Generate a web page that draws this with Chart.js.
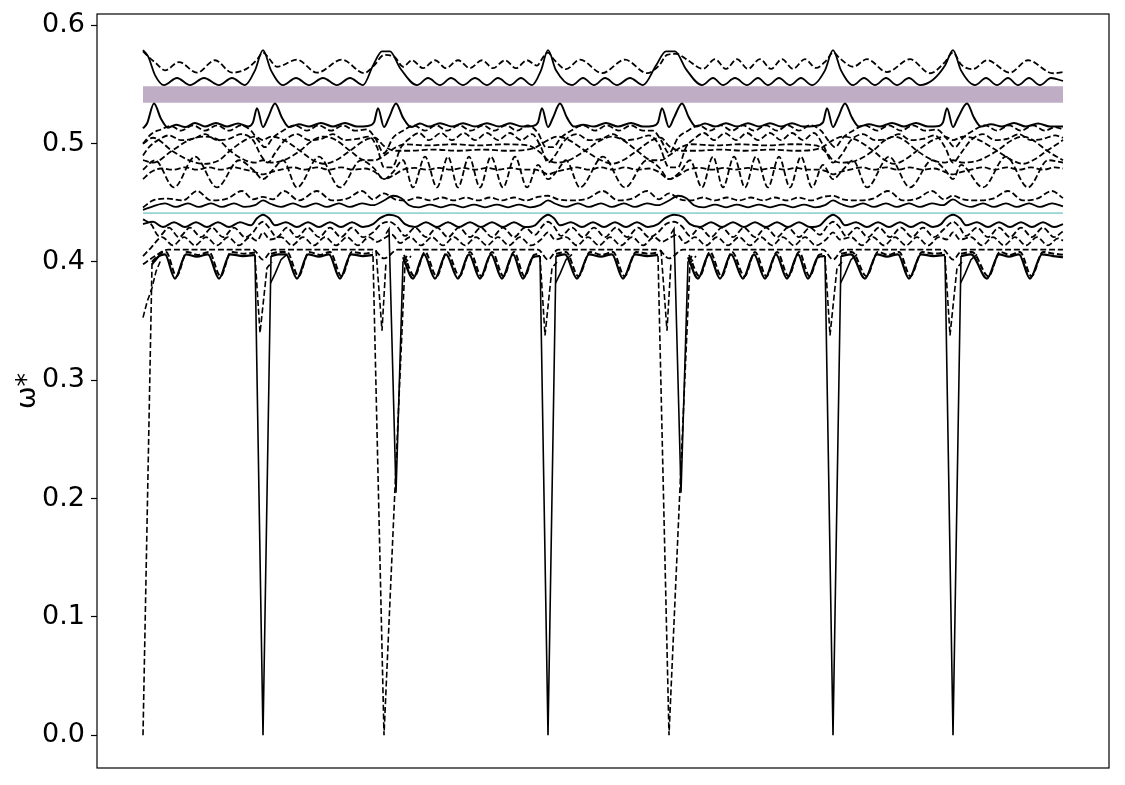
<!DOCTYPE html>
<html><head><meta charset="utf-8">
<script src="https://cdn.jsdelivr.net/npm/chart.js@4.4.1/dist/chart.umd.min.js"></script>
<style>html,body{margin:0;padding:0;background:#fff;}#wrap{width:1125px;height:785px;}</style>
</head><body><div id="wrap"><canvas id="c" width="1125" height="785"></canvas></div>
<script>
// y-axis ticks
const yTicks = [0, 0.1, 0.2, 0.3, 0.4, 0.5, 0.6];
// k-path coordinate runs from 0 to 92 (high-symmetry points at 0,12,24.1,40.5,52.6,69,81,92)

const topSolid = [[0,.579],[0.5,.574],[1.2,.558],[2.1,.5495],[3.4,.5555],[4.7,.5495],[6.1,.5555],[7.6,.5495],[8.9,.5555],[10.2,.5495],[11.2,.562],[12,.579],[12.8,.562],[14.0,.5495],[15.3,.5555],[16.6,.5495],[18.0,.5555],[19.4,.5495],[20.7,.5555],[22.0,.5495],[23.0,.566],[23.9,.578],[24.7,.578],[25.7,.564],[27.4,.5495],[28.5,.5555],[29.7,.5495],[30.8,.5555],[32.0,.5495],[33.2,.5555],[34.4,.5495],[35.5,.5555],[36.7,.5495],[37.8,.5555],[38.9,.5495],[39.8,.562],[40.5,.579],[41.3,.562],[42.9,.5495],[44.0,.5555],[45.1,.5495],[46.2,.5555],[47.4,.5495],[48.7,.5555],[50.0,.5495],[51.3,.566],[52.3,.578],[53.2,.578],[54.3,.563],[55.9,.5495],[57.0,.5555],[58.0,.5495],[59.2,.5555],[60.4,.5495],[61.5,.5555],[62.5,.5495],[63.6,.5555],[64.7,.5495],[65.8,.5555],[66.9,.5495],[68.2,.562],[69,.579],[69.8,.562],[71.0,.5495],[72.1,.5555],[73.2,.5495],[74.3,.5555],[75.4,.5495],[76.6,.5555],[77.7,.5495],[79.0,.554],[80.2,.566],[81,.579],[81.8,.562],[83.2,.5495],[84.3,.5555],[85.4,.5495],[86.5,.5555],[87.5,.5495],[88.6,.5555],[89.7,.5495],[90.8,.5555],[92,.553]];

const topDashed = [[0,.578],[0.6,.573],[1.3,.568],[2.2,.562],[3.6,.569],[5.4,.560],[7.2,.5705],[8.9,.560],[10.3,.563],[11.4,.571],[12,.577],[12.6,.572],[13.4,.565],[15.4,.571],[17.4,.560],[19.9,.571],[22.1,.5596],[23.1,.566],[24.1,.575],[25.2,.573],[26.0,.565],[26.9,.5705],[28.0,.5638],[29.2,.5705],[30.3,.5638],[31.5,.5705],[32.7,.5638],[33.9,.5705],[35.0,.5638],[36.2,.5705],[37.3,.5638],[38.4,.5705],[39.4,.566],[40.0,.573],[40.5,.577],[41.1,.571],[42.3,.563],[43.7,.571],[45.9,.5596],[48.2,.571],[50.4,.5596],[51.6,.566],[52.4,.575],[53.3,.576],[54.4,.571],[56.0,.5632],[57.2,.5714],[58.3,.5632],[59.4,.5714],[60.5,.5632],[61.7,.5714],[62.8,.5632],[63.9,.5714],[65.0,.5632],[66.2,.5714],[67.3,.564],[68.3,.570],[69,.577],[69.7,.572],[71.0,.565],[72.4,.5714],[74.4,.5605],[76.7,.5714],[78.7,.5595],[80.2,.569],[81,.577],[81.8,.567],[83.0,.563],[84.4,.5705],[86.7,.560],[88.5,.5705],[91.0,.5595],[92,.5605]];

const bandLow = [[0,.5345],[92,.5345]];
const bandHigh = [[0,.5486],[92,.5486]];

const s2Solid = [[0,.513],[0.4,.517],[1.1,.534],[1.8,.521],[2.5,.5135],[3.3,.516],[4.2,.514],[5.2,.5175],[6.2,.5145],[7.3,.5175],[8.4,.5145],[9.5,.517],[10.5,.5145],[11.0,.518],[11.4,.530],[12.0,.514],[12.5,.522],[13.2,.534],[13.9,.522],[14.6,.514],[15.6,.5165],[16.6,.5145],[17.8,.5175],[19.0,.5145],[20.2,.5175],[21.4,.5145],[22.5,.515],[23.1,.518],[23.5,.530],[24.1,.514],[24.6,.522],[25.3,.534],[26.0,.522],[26.8,.514],[27.7,.517],[28.6,.5145],[29.7,.5172],[30.9,.5145],[32.0,.5172],[33.2,.5145],[34.4,.5172],[35.6,.5145],[36.7,.5172],[37.9,.5145],[39.0,.515],[39.5,.518],[39.9,.530],[40.5,.514],[41.0,.522],[41.7,.534],[42.4,.522],[43.1,.5145],[44.0,.516],[45.1,.5145],[46.3,.5175],[47.5,.5145],[48.8,.5175],[50.0,.5145],[51.0,.515],[51.5,.518],[51.9,.530],[52.6,.514],[53.1,.522],[53.9,.534],[54.6,.522],[55.3,.5145],[56.2,.517],[57.2,.5145],[58.3,.5172],[59.4,.5145],[60.5,.5172],[61.6,.5145],[62.7,.5172],[63.8,.5145],[64.9,.5172],[66.0,.5145],[67.2,.515],[68.0,.518],[68.4,.530],[69.0,.514],[69.5,.522],[70.2,.534],[70.9,.522],[71.6,.5145],[72.6,.5165],[73.7,.5145],[74.9,.5175],[76.1,.5145],[77.3,.5175],[78.5,.5145],[79.6,.515],[80.0,.518],[80.4,.530],[81.0,.514],[81.5,.522],[82.4,.534],[83.1,.522],[83.8,.5145],[84.8,.5165],[85.9,.5145],[87.1,.5175],[88.3,.5145],[89.5,.517],[90.7,.5145],[92,.5145]];

const d2Dashed = [[0,.500],[0.8,.508],[1.8,.512],[2.8,.515],[3.8,.511],[5.0,.5155],[6.2,.511],[7.4,.5155],[8.6,.511],[9.8,.5155],[10.8,.511],[11.5,.503],[12.2,.497],[13.0,.505],[14.0,.511],[15.2,.5155],[16.4,.511],[17.6,.5155],[18.8,.511],[20.0,.5155],[21.2,.511],[22.4,.512],[23.2,.505],[24.1,.492],[25.0,.505],[26.0,.511],[27.1,.5155],[28.2,.511],[29.3,.5155],[30.4,.511],[31.6,.5155],[32.8,.511],[34.0,.5155],[35.1,.511],[36.3,.5155],[37.4,.511],[38.5,.5155],[39.5,.509],[40.3,.497],[41.0,.497],[41.8,.505],[42.8,.511],[44.0,.5155],[45.2,.511],[46.4,.5155],[47.6,.511],[48.8,.5155],[50.0,.511],[51.0,.511],[51.8,.503],[52.6,.492],[53.5,.505],[54.5,.511],[55.6,.5155],[56.7,.511],[57.8,.5155],[58.9,.511],[60.0,.5155],[61.1,.511],[62.3,.5155],[63.4,.511],[64.5,.5155],[65.6,.511],[66.7,.5155],[67.8,.511],[68.5,.503],[69.2,.497],[70.0,.505],[71.0,.511],[72.2,.5155],[73.4,.511],[74.6,.5155],[75.8,.511],[77.0,.5155],[78.2,.511],[79.4,.512],[80.3,.505],[81.2,.497],[82.0,.505],[83.0,.511],[84.2,.5155],[85.4,.511],[86.6,.5155],[87.8,.511],[89.0,.5155],[90.2,.511],[91.2,.514],[92,.512]];

const d3Dashed = [[0,.490],[0.6,.497],[1.5,.503],[2.6,.507],[3.8,.503],[5.0,.504],[6.2,.508],[7.4,.503],[8.6,.504],[9.8,.508],[11.0,.503],[11.8,.490],[12.5,.484],[13.2,.492],[14.2,.503],[15.4,.508],[16.6,.503],[17.8,.504],[19.0,.508],[20.2,.503],[21.4,.504],[22.6,.506],[23.4,.497],[24.1,.480],[24.9,.480],[25.8,.497],[26.6,.504],[27.6,.509],[28.6,.503],[29.8,.509],[30.9,.503],[32.1,.509],[33.2,.503],[34.4,.509],[35.5,.503],[36.7,.509],[37.8,.503],[38.9,.508],[39.8,.497],[40.5,.484],[41.2,.490],[42.2,.503],[43.4,.508],[44.6,.503],[45.8,.504],[47.0,.508],[48.2,.503],[49.4,.504],[50.6,.507],[51.6,.499],[52.6,.480],[53.5,.480],[54.3,.497],[55.1,.504],[56.1,.509],[57.1,.503],[58.2,.509],[59.3,.503],[60.4,.509],[61.5,.503],[62.7,.509],[63.8,.503],[64.9,.509],[66.0,.503],[67.1,.509],[68.0,.499],[69.0,.484],[69.8,.490],[70.8,.503],[72.0,.508],[73.2,.503],[74.4,.504],[75.6,.508],[76.8,.503],[78.0,.504],[79.2,.507],[80.2,.497],[81.0,.484],[81.8,.492],[82.8,.503],[84.0,.508],[85.2,.503],[86.4,.504],[87.6,.508],[88.8,.503],[90.0,.504],[91.2,.507],[92,.505]];

const m1Dashed = [[0,.486],[1.0,.484],[2.9,.494],[4.6,.503],[6.1,.506],[7.6,.503],[8.7,.494],[10.2,.486],[11.2,.484],[12,.486],[12.8,.484],[14.1,.486],[15.7,.494],[17.0,.503],[18.1,.506],[19.3,.503],[20.7,.494],[22.2,.486],[23.2,.486],[24.1,.490],[25.3,.497],[26.2,.4995],[28.5,.4985],[31.0,.4995],[33.5,.4985],[36.0,.4995],[38.5,.4985],[39.8,.492],[40.5,.486],[41.4,.484],[42.6,.486],[44.2,.494],[45.8,.503],[46.9,.506],[48.0,.503],[49.4,.494],[50.9,.486],[51.8,.486],[52.6,.490],[53.8,.497],[54.8,.4995],[57.3,.4985],[59.8,.4995],[62.3,.4985],[64.8,.4995],[67.3,.4985],[68.4,.492],[69,.486],[70.0,.484],[71.4,.486],[73.0,.494],[74.2,.503],[75.1,.506],[76.1,.503],[77.4,.494],[79.0,.486],[80.2,.484],[81,.486],[82.0,.484],[83.6,.486],[85.4,.494],[86.9,.503],[88.0,.506],[89.0,.503],[90.4,.494],[92,.486]];

const m2Dashed = [[0,.500],[1.0,.505],[2.9,.494],[4.6,.486],[6.1,.483],[7.6,.486],[8.7,.494],[10.2,.503],[11.2,.506],[12,.503],[12.8,.506],[14.1,.503],[15.7,.494],[17.0,.486],[18.1,.483],[19.3,.486],[20.7,.494],[22.2,.503],[23.2,.505],[24.1,.498],[25.3,.494],[26.5,.494],[29.0,.495],[31.5,.494],[34.0,.495],[36.5,.494],[39.0,.496],[40.5,.503],[41.4,.506],[42.6,.503],[44.2,.494],[45.8,.486],[46.9,.483],[48.0,.486],[49.4,.494],[50.9,.503],[51.8,.505],[52.6,.498],[53.8,.494],[55.2,.494],[57.7,.495],[60.2,.494],[62.7,.495],[65.2,.494],[67.7,.496],[69,.503],[70.0,.506],[71.4,.503],[73.0,.494],[74.2,.486],[75.1,.483],[76.1,.486],[77.4,.494],[79.0,.503],[80.2,.506],[81,.503],[82.0,.506],[83.6,.503],[85.4,.494],[86.9,.486],[88.0,.483],[89.0,.486],[90.4,.494],[92,.503]];

const m3Dashed = [[0,.470],[0.8,.476],[1.8,.479],[3.0,.478],[4.2,.480],[5.4,.478],[6.6,.480],[7.8,.478],[9.0,.480],[10.2,.478],[11.2,.476],[12,.474],[12.8,.476],[13.8,.478],[15.0,.480],[16.2,.478],[17.4,.480],[18.6,.478],[19.8,.480],[21.0,.478],[22.2,.479],[23.2,.476],[24.1,.470],[25.0,.473],[26.0,.478],[27.2,.4795],[28.4,.478],[29.6,.4795],[30.8,.478],[32.0,.4795],[33.2,.478],[34.4,.4795],[35.6,.478],[36.8,.4795],[38.0,.478],[39.2,.478],[40.0,.476],[40.5,.474],[41.2,.476],[42.2,.478],[43.4,.480],[44.6,.478],[45.8,.480],[47.0,.478],[48.2,.480],[49.4,.478],[50.6,.479],[51.6,.476],[52.6,.470],[53.5,.473],[54.5,.478],[55.7,.4795],[56.9,.478],[58.1,.4795],[59.3,.478],[60.5,.4795],[61.7,.478],[62.9,.4795],[64.1,.478],[65.3,.4795],[66.5,.478],[67.7,.478],[68.5,.476],[69,.474],[69.7,.476],[70.7,.478],[71.9,.480],[73.1,.478],[74.3,.480],[75.5,.478],[76.7,.480],[77.9,.478],[79.1,.479],[80.2,.476],[81,.474],[81.8,.476],[82.8,.478],[84.0,.480],[85.2,.478],[86.4,.480],[87.6,.478],[88.8,.480],[90.0,.478],[91.2,.480],[92,.479]];

const m4Dashed = [[0,.478],[1.2,.486],[3.1,.463],[5.2,.489],[7.4,.463],[9.6,.486],[11.0,.478],[12,.470],[13.0,.478],[14.0,.486],[15.4,.463],[17.6,.489],[19.7,.463],[21.8,.486],[23.0,.480],[24.1,.470],[25.0,.476],[26.0,.486],[27.0,.463],[28.2,.489],[29.4,.463],[30.5,.489],[31.5,.463],[32.6,.489],[33.7,.463],[34.8,.489],[36.0,.463],[37.2,.489],[38.4,.463],[39.5,.482],[40.5,.470],[41.5,.478],[42.3,.486],[43.7,.463],[46.0,.489],[48.2,.463],[50.4,.486],[51.6,.480],[52.6,.470],[53.7,.476],[54.7,.486],[55.9,.463],[57.0,.489],[58.0,.463],[59.1,.489],[60.2,.463],[61.3,.489],[62.5,.463],[63.6,.489],[64.7,.463],[65.8,.489],[66.9,.463],[68.0,.482],[69,.470],[70.0,.478],[71.0,.486],[72.4,.463],[74.6,.489],[76.7,.463],[78.9,.486],[80.2,.478],[81,.470],[81.8,.482],[84.0,.463],[86.3,.489],[88.5,.463],[90.5,.486],[92,.484]];

const m5Dashed = [[0,.446],[1.0,.452],[2.5,.4535],[4.0,.452],[5.4,.460],[6.8,.452],[8.4,.4535],[9.9,.460],[11.0,.453],[12,.455],[13.0,.453],[14.1,.460],[15.6,.452],[17.4,.460],[18.9,.452],[20.4,.4535],[21.9,.460],[23.0,.453],[24.1,.458],[25.2,.453],[26.3,.452],[27.5,.4545],[28.7,.452],[29.9,.4545],[31.1,.452],[32.3,.4545],[33.5,.452],[34.7,.4545],[35.9,.452],[37.1,.4545],[38.3,.452],[39.5,.455],[40.5,.456],[41.5,.453],[42.8,.452],[44.4,.4535],[46.0,.460],[47.5,.452],[48.9,.4535],[50.4,.460],[51.6,.453],[52.6,.458],[53.7,.453],[54.8,.452],[56.0,.4545],[57.2,.452],[58.4,.4545],[59.6,.452],[60.8,.4545],[62.0,.452],[63.2,.4545],[64.4,.452],[65.6,.4545],[66.8,.452],[68.0,.455],[69,.456],[70.0,.453],[71.3,.452],[73.0,.4535],[74.5,.460],[76.0,.452],[77.4,.4535],[78.9,.460],[80.1,.453],[81,.456],[82.0,.453],[83.4,.452],[85.0,.4535],[86.5,.460],[88.0,.452],[89.4,.4535],[90.9,.460],[92,.454]];

const s3Solid = [[0,.444],[1.0,.447],[2.2,.4495],[3.3,.4465],[4.5,.4495],[5.6,.4465],[6.8,.4495],[7.9,.4465],[9.1,.4495],[10.2,.4465],[11.2,.448],[12,.452],[12.8,.449],[13.8,.4465],[15.0,.4495],[16.1,.4465],[17.3,.4495],[18.4,.4465],[19.6,.4495],[20.7,.4465],[21.9,.4495],[23.0,.448],[24.1,.452],[25.0,.456],[25.8,.454],[26.6,.448],[27.6,.4462],[28.7,.4485],[29.8,.4462],[30.9,.4485],[32.0,.4462],[33.1,.4485],[34.2,.4462],[35.4,.4485],[36.5,.4462],[37.6,.4485],[38.7,.4462],[39.7,.448],[40.5,.452],[41.3,.449],[42.3,.4465],[43.5,.4495],[44.6,.4465],[45.8,.4495],[46.9,.4465],[48.1,.4495],[49.2,.4465],[50.4,.4495],[51.5,.448],[52.6,.452],[53.5,.456],[54.3,.454],[55.1,.448],[56.1,.4462],[57.2,.4485],[58.3,.4462],[59.4,.4485],[60.5,.4462],[61.6,.4485],[62.7,.4462],[63.9,.4485],[65.0,.4462],[66.1,.4485],[67.2,.4462],[68.2,.448],[69,.452],[69.8,.449],[70.8,.4465],[72.0,.4495],[73.1,.4465],[74.3,.4495],[75.4,.4465],[76.6,.4495],[77.7,.4465],[78.9,.4495],[80.0,.448],[81,.453],[81.8,.449],[82.8,.4465],[84.0,.4495],[85.1,.4465],[86.3,.4495],[87.4,.4465],[88.6,.4495],[89.7,.4465],[90.9,.4495],[92,.447]];

const cyanLine = [[0,.4413],[92,.4413]];

const s4Solid = [[0,.432],[1.0,.434],[2.0,.4295],[3.1,.4335],[4.2,.4295],[5.3,.4335],[6.4,.4295],[7.5,.4335],[8.6,.4295],[9.7,.4335],[10.8,.431],[11.4,.437],[12,.440],[12.6,.437],[13.2,.431],[14.3,.4335],[15.4,.4295],[16.5,.4335],[17.6,.4295],[18.7,.4335],[19.8,.4295],[20.9,.4335],[22.0,.4295],[23.0,.432],[23.7,.437],[24.6,.440],[25.5,.438],[26.2,.432],[27.2,.4295],[28.3,.4335],[29.4,.4295],[30.5,.4335],[31.6,.4295],[32.7,.4335],[33.8,.4295],[34.9,.4335],[36.0,.4295],[37.1,.4335],[38.2,.4295],[39.2,.431],[39.9,.437],[40.5,.440],[41.1,.437],[41.7,.431],[42.8,.4335],[43.9,.4295],[45.0,.4335],[46.1,.4295],[47.2,.4335],[48.3,.4295],[49.4,.4335],[50.5,.4295],[51.5,.432],[52.2,.437],[53.1,.440],[54.0,.438],[54.7,.432],[55.7,.4295],[56.8,.4335],[57.9,.4295],[59.0,.4335],[60.1,.4295],[61.2,.4335],[62.3,.4295],[63.4,.4335],[64.5,.4295],[65.6,.4335],[66.7,.4295],[67.7,.431],[68.4,.437],[69,.440],[69.6,.437],[70.2,.431],[71.3,.4335],[72.4,.4295],[73.5,.4335],[74.6,.4295],[75.7,.4335],[76.8,.4295],[77.9,.4335],[79.0,.4295],[79.8,.432],[80.3,.437],[81.0,.440],[81.7,.437],[82.3,.431],[83.4,.4335],[84.5,.4295],[85.6,.4335],[86.7,.4295],[87.8,.4335],[88.9,.4295],[90.0,.4335],[91.1,.4295],[92,.432]];

const l1Dashed = [[0,.436],[0.8,.432],[1.6,.422],[2.6,.429],[3.6,.421],[4.7,.429],[5.8,.421],[6.9,.429],[8.0,.421],[9.1,.429],[10.2,.421],[11.0,.425],[11.6,.432],[12,.434],[12.5,.430],[13.4,.421],[14.4,.429],[15.4,.421],[16.5,.429],[17.6,.421],[18.7,.429],[19.8,.421],[20.9,.429],[22.0,.421],[23.0,.425],[23.8,.432],[24.6,.434],[25.4,.430],[26.2,.422],[27.2,.429],[28.3,.421],[29.4,.429],[30.5,.421],[31.6,.429],[32.7,.421],[33.8,.429],[34.9,.421],[36.0,.429],[37.1,.421],[38.2,.429],[39.2,.423],[40.0,.431],[40.5,.434],[41.1,.430],[41.8,.422],[42.9,.429],[44.0,.421],[45.1,.429],[46.2,.421],[47.3,.429],[48.4,.421],[49.5,.429],[50.6,.421],[51.5,.425],[52.3,.432],[53.1,.434],[53.9,.430],[54.7,.422],[55.7,.429],[56.8,.421],[57.9,.429],[59.0,.421],[60.1,.429],[61.2,.421],[62.3,.429],[63.4,.421],[64.5,.429],[65.6,.421],[66.7,.429],[67.7,.423],[68.5,.431],[69,.434],[69.6,.430],[70.3,.422],[71.4,.429],[72.5,.421],[73.6,.429],[74.7,.421],[75.8,.429],[76.9,.421],[78.0,.429],[79.1,.421],[80.0,.427],[80.6,.432],[81,.434],[81.6,.430],[82.3,.422],[83.4,.429],[84.5,.421],[85.6,.429],[86.7,.421],[87.8,.429],[88.9,.421],[90.0,.429],[91.1,.421],[92,.426]];

const l2Dashed = [[0,.405],[0.8,.412],[1.9,.421],[3.0,.414],[4.1,.421],[5.2,.414],[6.3,.421],[7.4,.414],[8.5,.421],[9.6,.414],[10.7,.421],[11.4,.418],[12,.425],[12.7,.419],[13.8,.421],[14.9,.414],[16.0,.421],[17.1,.414],[18.2,.421],[19.3,.414],[20.4,.421],[21.5,.414],[22.6,.421],[23.4,.417],[24.1,.420],[24.9,.423],[25.7,.416],[26.7,.421],[27.8,.414],[28.9,.421],[30.0,.414],[31.1,.421],[32.2,.414],[33.3,.421],[34.4,.414],[35.5,.421],[36.6,.414],[37.7,.421],[38.8,.414],[39.8,.419],[40.5,.425],[41.2,.419],[42.3,.421],[43.4,.414],[44.5,.421],[45.6,.414],[46.7,.421],[47.8,.414],[48.9,.421],[50.0,.414],[51.1,.421],[51.9,.417],[52.6,.420],[53.4,.423],[54.2,.416],[55.2,.421],[56.3,.414],[57.4,.421],[58.5,.414],[59.6,.421],[60.7,.414],[61.8,.421],[62.9,.414],[64.0,.421],[65.1,.414],[66.2,.421],[67.3,.414],[68.3,.419],[69,.425],[69.7,.419],[70.8,.421],[71.9,.414],[73.0,.421],[74.1,.414],[75.2,.421],[76.3,.414],[77.4,.421],[78.5,.414],[79.6,.421],[80.4,.419],[81,.425],[81.7,.419],[82.8,.421],[83.9,.414],[85.0,.421],[86.1,.414],[87.2,.421],[88.3,.414],[89.4,.421],[90.5,.414],[91.5,.420],[92,.418]];

const l3Dashed = [[0,.398],[1.2,.405],[2.5,.4105],[11.0,.4105],[12,.402],[13.0,.4105],[23.0,.4105],[24.1,.403],[25.5,.4105],[39.5,.4105],[40.5,.402],[41.5,.4105],[51.5,.4105],[52.6,.403],[54.0,.4105],[68.0,.4105],[69,.402],[70.0,.4105],[80.0,.4105],[81,.402],[82.0,.4105],[92,.4105]];

const wSolid = [[0.9,.398],[1.6,.405],[2.2,.4065],[3.2,.386],[4.3,.4065],[5.4,.4045],[6.5,.4065],[7.6,.386],[8.7,.4065],[10.0,.405],[11.2,.406],[11.6,null],
 [12.8,.405],[13.6,.4065],[14.3,.4065],[15.4,.386],[16.5,.4065],[17.6,.4045],[18.6,.4065],[19.7,.386],[20.8,.4065],[22.0,.405],[23.0,.406],[23.5,null],
 [26.0,.404],[27.0,.386],[28.1,.4065],[29.2,.386],[30.3,.4065],[31.5,.386],[32.6,.4065],[33.7,.386],[34.8,.4065],[35.9,.386],[37.0,.4065],[38.0,.386],[39.0,.404],[39.7,.405],[40.0,null],
 [41.3,.405],[42.2,.4065],[43.4,.386],[44.6,.4065],[45.8,.4045],[46.9,.4065],[48.0,.386],[49.2,.4065],[50.4,.405],[51.5,.406],[52.0,null],
 [54.5,.404],[55.5,.386],[56.6,.4065],[57.7,.386],[58.8,.4065],[60.0,.386],[61.1,.4065],[62.2,.386],[63.3,.4065],[64.4,.386],[65.5,.4065],[66.5,.386],[67.5,.404],[68.2,.405],[68.5,null],
 [69.8,.405],[70.8,.4065],[72.2,.386],[73.4,.4065],[74.4,.4045],[75.5,.4065],[76.6,.386],[77.8,.4065],[79.0,.405],[80.2,.406],[80.5,null],
 [81.8,.405],[82.8,.4065],[84.4,.386],[85.6,.4065],[86.6,.4045],[87.6,.4065],[88.7,.386],[89.9,.4065],[91.0,.405],[92,.404]];

const wDashed = [[0.9,.400],[1.7,.407],[2.3,.4085],[3.35,.388],[4.4,.4085],[5.5,.406],[6.6,.4085],[7.75,.388],[8.8,.4085],[10.1,.407],[11.2,.408],[11.6,null],
 [12.8,.407],[13.7,.4085],[14.4,.4085],[15.55,.388],[16.6,.4085],[17.7,.406],[18.7,.4085],[19.85,.388],[20.9,.4085],[22.1,.407],[23.0,.408],[23.5,null],
 [26.1,.406],[27.15,.388],[28.2,.4085],[29.35,.388],[30.4,.4085],[31.65,.388],[32.7,.4085],[33.85,.388],[34.9,.4085],[36.05,.388],[37.1,.4085],[38.15,.388],[39.1,.406],[39.7,.407],[40.0,null],
 [41.3,.407],[42.3,.4085],[43.55,.388],[44.7,.4085],[45.9,.406],[47.0,.4085],[48.15,.388],[49.3,.4085],[50.5,.407],[51.5,.408],[52.0,null],
 [54.6,.406],[55.65,.388],[56.7,.4085],[57.85,.388],[58.9,.4085],[60.15,.388],[61.2,.4085],[62.35,.388],[63.4,.4085],[64.55,.388],[65.6,.4085],[66.65,.388],[67.6,.406],[68.2,.407],[68.5,null],
 [69.8,.407],[70.9,.4085],[72.35,.388],[73.5,.4085],[74.5,.406],[75.6,.4085],[76.75,.388],[77.9,.4085],[79.1,.407],[80.2,.408],[80.5,null],
 [81.8,.407],[82.9,.4085],[84.55,.388],[85.7,.4085],[86.7,.406],[87.7,.4085],[88.85,.388],[90.0,.4085],[91.1,.407],[92,.406]];

// acoustic branches / dips near the zone-centre points
const spike0a = [[0,0],[0.9,.398],[1.6,.405]];
const spike0b = [[0,.353],[0.4,.366],[0.9,.378],[1.3,.392],[1.8,.402]];
const spike1 = [[11.2,.406],[12,0],[12.8,.405]];
const dip1 = [[11.2,.405],[11.7,.340],[12.4,.395],[12.9,.400]];
const branch1 = [[12.75,.382],[13.2,.390],[13.8,.402],[14.4,.4065]];
const spike2 = [[23.0,.405],[24.1,0],[26.2,.399],[26.8,.405]];
const dip2 = [[24.3,.424],[24.6,.428],[25.3,.205],[26.0,.400],[26.4,.405]];
const notch2 = [[23.3,.410],[23.9,.342],[24.3,.400]];
const spike3 = [[39.7,.405],[40.5,0],[41.3,.405]];
const dip3 = [[39.7,.405],[40.2,.338],[40.9,.395],[41.4,.400]];
const branch3 = [[41.25,.382],[41.7,.390],[42.3,.402],[42.9,.4065]];
const spike4 = [[51.5,.405],[52.6,0],[54.7,.399],[55.3,.405]];
const dip4 = [[52.8,.424],[53.1,.428],[53.8,.205],[54.5,.400],[54.9,.405]];
const notch4 = [[51.8,.410],[52.4,.342],[52.8,.400]];
const spike5 = [[68.2,.405],[69,0],[69.8,.405]];
const dip5 = [[68.2,.405],[68.7,.338],[69.4,.395],[69.9,.400]];
const branch5 = [[69.75,.382],[70.2,.390],[70.8,.402],[71.4,.4065]];
const spike6 = [[80.2,.405],[81,0],[81.8,.405]];
const dip6 = [[80.2,.405],[80.7,.338],[81.4,.395],[81.9,.400]];
const branch6 = [[81.75,.382],[82.2,.390],[82.8,.402],[83.4,.4065]];

const PURPLE = 'rgb(191,173,198)';
const CYAN = 'rgb(150,212,212)';
const DASH = [6, 2.8];

function smooth(data, dashed, extra) {
  return Object.assign({
    data: data, borderColor: '#000', borderWidth: 1.8,
    borderDash: dashed ? DASH : [], pointRadius: 0, fill: false,
    cubicInterpolationMode: 'monotone', order: 1
  }, extra || {});
}
function straight(data, dashed) {
  return smooth(data, dashed, {cubicInterpolationMode: 'default', tension: 0, borderWidth: 1.6});
}

const datasets = [
  {data: bandLow, borderColor: 'rgba(0,0,0,0)', borderWidth: 1, pointRadius: 0, fill: false, order: 10},
  {data: bandHigh, borderColor: 'rgba(0,0,0,0)', borderWidth: 1, pointRadius: 0, fill: '-1', backgroundColor: PURPLE, order: 10},
  smooth(cyanLine, false, {borderColor: CYAN, borderWidth: 1.8, order: 9}),
  smooth(topSolid, false), smooth(topDashed, true),
  smooth(s2Solid, false, {borderWidth: 2}), smooth(d2Dashed, true), smooth(d3Dashed, true),
  smooth(m1Dashed, true), smooth(m2Dashed, true), smooth(m3Dashed, true),
  smooth(m4Dashed, true), smooth(m5Dashed, true), smooth(s3Solid, false),
  smooth(s4Solid, false, {borderWidth: 2}), smooth(l1Dashed, true), smooth(l2Dashed, true), smooth(l3Dashed, true),
  smooth(wSolid, false, {borderWidth: 2.2}), smooth(wDashed, true, {borderWidth: 2}),
  straight(spike0a, true), straight(spike0b, true),
  straight(spike1, false), straight(dip1, true), straight(branch1, false),
  straight(spike2, true), straight(dip2, false), straight(notch2, true),
  straight(spike3, false), straight(dip3, true), straight(branch3, false),
  straight(spike4, true), straight(dip4, false), straight(notch4, true),
  straight(spike5, false), straight(dip5, true), straight(branch5, false),
  straight(spike6, false), straight(dip6, true), straight(branch6, false)
];

const framePlugin = {
  id: 'frame',
  afterDraw(chart) {
    const a = chart.chartArea, ctx = chart.ctx;
    ctx.save();
    ctx.strokeStyle = '#000';
    ctx.lineWidth = 1.2;
    ctx.setLineDash([]);
    ctx.strokeRect(a.left, a.top, a.right - a.left, a.bottom - a.top);
    ctx.restore();
  }
};

new Chart(document.getElementById('c'), {
  type: 'line',
  data: {datasets: datasets},
  options: {
    responsive: false, animation: false, devicePixelRatio: 1,
    layout: {padding: {top: 14, right: 16, bottom: 17, left: 0}},
    plugins: {legend: {display: false}, tooltip: {enabled: false}},
    scales: {
      x: {type: 'linear', min: -4.6, max: 96.6, display: false},
      y: {
        type: 'linear', min: -0.0277, max: 0.6096,
        afterFit: function (s) { s.width = 97; s.paddingTop = 0; s.paddingBottom = 0; },
        afterBuildTicks: function (s) { s.ticks = yTicks.map(v => ({value: v})); },
        ticks: {
          font: {family: 'DejaVu Sans', size: 27}, color: '#000', padding: 6,
          callback: v => Number(v).toFixed(1)
        },
        grid: {drawOnChartArea: false, drawTicks: true, tickLength: 6, tickWidth: 1.2, tickColor: '#000'},
        border: {display: false},
        title: {display: true, text: 'ω*', font: {family: 'DejaVu Sans', size: 27}, color: '#000', padding: {top: 12, bottom: 0}}
      }
    }
  },
  plugins: [framePlugin]
});
</script>
</body></html>
